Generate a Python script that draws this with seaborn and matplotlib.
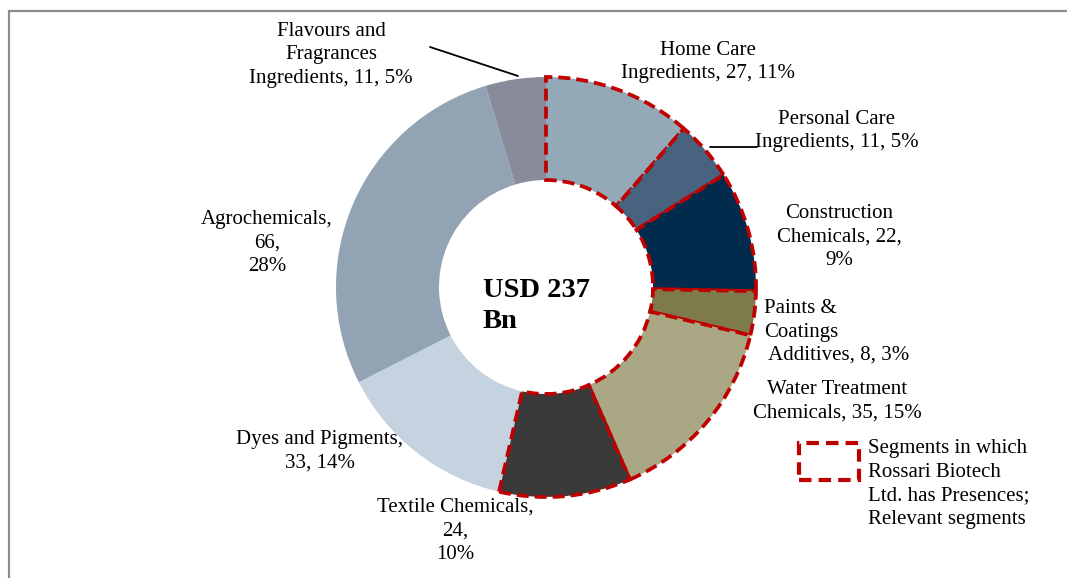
import numpy as np
import matplotlib
matplotlib.use("Agg")
import matplotlib.pyplot as plt
import seaborn as sns
from matplotlib.patches import Rectangle
from matplotlib.lines import Line2D

# data (USD Bn), clockwise from 12 o'clock
segments = ["Home Care Ingredients", "Personal Care Ingredients", "Construction Chemicals",
            "Paints & Coatings Additives", "Water Treatment Chemicals", "Textile Chemicals",
            "Dyes and Pigments", "Agrochemicals", "Flavours and Fragrances Ingredients"]
values = [27, 11, 22, 8, 35, 24, 33, 66, 11]
relevant = [True, True, True, True, True, True, False, False, False]
colors = ["#94a9b7", "#47637f", "#002b4c", "#7f7a4b", "#aaa784",
          "#3a3a3a", "#c5d2df", "#92a3b4", "#878b9a"]
labels = ["Home Care\nIngredients, 27, 11%",
          "Personal Care\nIngredients, 11, 5%",
          "Construction\nChemicals, 22,\n9%",
          "Paints &\nCoatings\n Additives, 8, 3%",
          "Water Treatment\nChemicals, 35, 15%",
          "Textile Chemicals,\n24,\n10%",
          "Dyes and Pigments,\n33, 14%",
          "Agrochemicals,\n66,\n28%",
          "Flavours and\nFragrances\nIngredients, 11, 5%"]
legend_text = "Segments in which\nRossari Biotech\nLtd. has Presences;\nRelevant segments"

sns.set_theme(style="white")
plt.rcParams['font.family'] = ['Liberation Serif', 'DejaVu Serif']
plt.rcParams['text.color'] = 'black'

W, H = 1067, 578
fig = plt.figure(figsize=(W / 100, H / 100), dpi=100)

def px(x, y):
    return x / W, 1 - y / H

# donut axes: centre (546, 287), outer radius 210 px
cx, cy, half = 546, 287, 220
ax = fig.add_axes([(cx - half) / W, (H - cy - half) / H, 2 * half / W, 2 * half / H])
wedges, _ = ax.pie(values, colors=colors, startangle=90, counterclock=False,
                   radius=210 / 220, wedgeprops=dict(width=103 / 220, linewidth=0))
for w, r in zip(wedges, relevant):
    if r:
        w.set_edgecolor("#c00000")
        w.set_linewidth(2.7)
        w.set_linestyle((0, (3.2, 1.6)))
        w.set_zorder(3)
ax.set_xlim(-1, 1)
ax.set_ylim(-1, 1)
ax.set_aspect("equal")
ax.axis("off")

# label positions (pixels, centre of each block)
pos = [(708, 62, "center"), (837, 131, "center"), (839, 237, "center"),
       (764, 332, "left"), (837, 401, "center"), (455, 531, "center"),
       (320, 451, "center"), (267, 243, "center"), (331, 55, "center")]
for lab, (x, y, ha) in zip(labels, pos):
    fig.text(*px(x, y), lab, ha=ha, va="center", multialignment=ha,
             fontsize=15, linespacing=1.32, color="black")

# leader lines
fig.add_artist(Line2D([430 / W, 518 / W], [1 - 47 / H, 1 - 76 / H], color="black", lw=1.3))
fig.add_artist(Line2D([710 / W, 757 / W], [1 - 147 / H, 1 - 147 / H], color="black", lw=1.3))

# centre total
fig.text(*px(483, 306), f"USD {sum(values)}\nBn", ha="left", va="center",
         fontsize=20.5, fontweight="bold", linespacing=1.32)

# legend
fig.add_artist(Rectangle(px(799, 480), 60 / W, 37 / H, transform=fig.transFigure,
                         fill=False, edgecolor="#c00000", lw=3, linestyle=(0, (3, 1.7))))
fig.text(*px(868, 484), legend_text, ha="left", va="center", fontsize=15, linespacing=1.32)

# frame
fig.add_artist(Line2D([9 / W, 9 / W], [0, 1 - 11 / H], color="#8c8c8c", lw=1.6))
fig.add_artist(Line2D([9 / W, 1], [1 - 11 / H, 1 - 11 / H], color="#8c8c8c", lw=1.6))

fig.savefig("out.png", dpi=100, facecolor="white")
